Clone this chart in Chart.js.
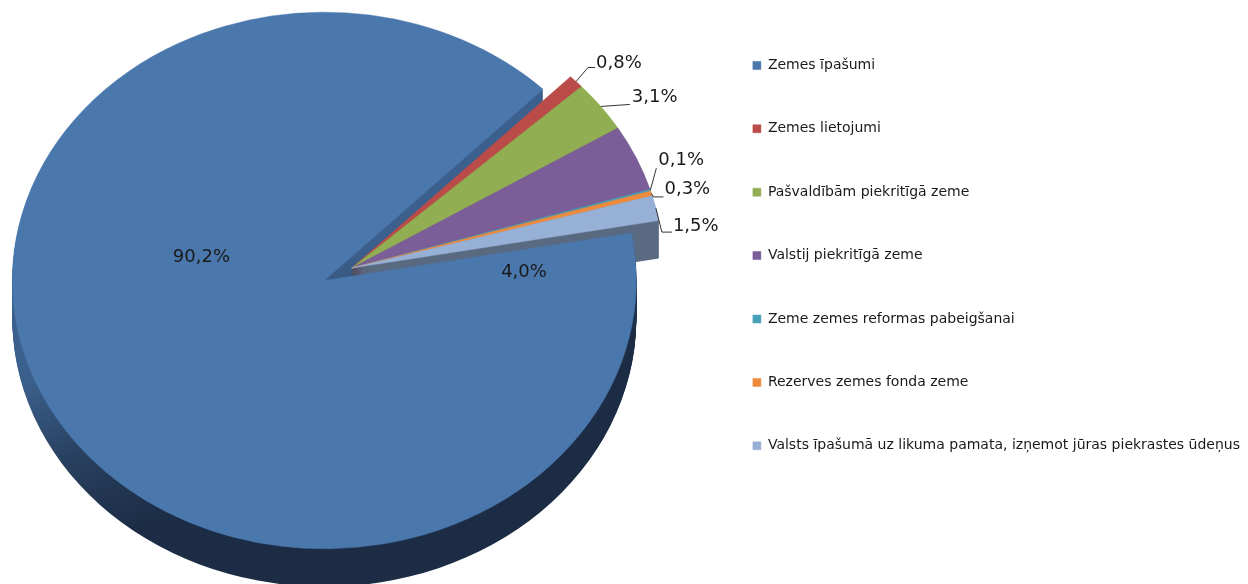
<!DOCTYPE html>
<html lang="lv">
<head>
<meta charset="utf-8">
<title>Zemes sadalījums</title>
<script src="https://cdn.jsdelivr.net/npm/chart.js@4.4.1/dist/chart.umd.min.js"></script>
<style>
  html, body { margin: 0; padding: 0; background: #fff; }
  #wrap { width: 1248px; height: 584px; }
</style>
</head>
<body>
<div id="wrap"><canvas id="pie" width="1248" height="584"></canvas></div>
<script>
// --- Dati ---
const categories = [
    'Zemes īpašumi',
    'Zemes lietojumi',
    'Pašvaldībām piekritīgā zeme',
    'Valstij piekritīgā zeme',
    'Zeme zemes reformas pabeigšanai',
    'Rezerves zemes fonda zeme',
    'Valsts īpašumā uz likuma pamata, izņemot jūras piekrastes ūdeņus'
];
const shares = [90.2, 0.8, 3.1, 4.0, 0.1, 0.3, 1.5];
const shareLabels = shares.map(v => v.toFixed(1).replace('.', ',') + '%');

const sliceColors = ['#4a77ac', '#bb4b48', '#92ae53', '#7b5e98', '#45a0b8', '#ee8a3c', '#97b0d6'];
const sideColors  = ['#2a4469', '#7a2f2d', '#5f7536', '#4e3c66', '#2e6c7d', '#a8632a', '#5a6a81'];


/**
 * Pie "3D" : le camembert est aplati verticalement, avec une tranche éclatée
 * et une épaisseur dessinée en couches sombres sous les faces.
 */
class Pie3DController extends Chart.PieController {
    draw() {
        const ctx = this.chart.ctx;
        const arcs = this._cachedMeta.data;
        if (!arcs.length) return;
        const ds = this.getDataset();
        const depth = ds.depth || 0;
        const squish = ds.squish || 1;
        const explode = ds.explode || [];
        const cx = arcs[0].x, cy = arcs[0].y;

        const layer = (dy, paint) => {
            ctx.save();
            ctx.translate(cx, cy + dy);
            ctx.scale(1, squish);
            ctx.translate(-cx, -cy);
            arcs.forEach((arc, i) => {
                const mid = (arc.startAngle + arc.endAngle) / 2;
                const e = explode[i] || 0;
                ctx.save();
                ctx.translate(Math.cos(mid) * e, Math.sin(mid) * e);
                paint(arc, i);
                ctx.restore();
            });
            ctx.restore();
        };

        // dégradé du flanc de la grande tranche, défini en coordonnées écran
        const flankShade = () => {
            const inv = ctx.getTransform().invertSelf();
            const p0 = inv.transformPoint(new DOMPoint(cx - 180, cy + 55));
            const p1 = inv.transformPoint(new DOMPoint(cx - 95, cy + 215));
            const g = ctx.createLinearGradient(p0.x, p0.y, p1.x, p1.y);
            g.addColorStop(0, '#3c608d');
            g.addColorStop(0.5, '#28405f');
            g.addColorStop(1, '#1c2c45');
            return g;
        };

        for (let d = depth; d > 0; d--) {
            layer(d, (arc, i) => {
                ctx.beginPath();
                ctx.moveTo(arc.x, arc.y);
                ctx.arc(arc.x, arc.y, arc.outerRadius, arc.startAngle, arc.endAngle);
                ctx.closePath();
                ctx.fillStyle = i === 0 ? flankShade() : ds.sideColor[i];
                ctx.fill();
            });
        }
        layer(0, arc => arc.draw(ctx));
    }
}
Pie3DController.id = 'pie3d';
Pie3DController.defaults = Chart.PieController.defaults;
Pie3DController.overrides = Chart.PieController.overrides;
Chart.register(Pie3DController);


// Étiquettes de pourcentage avec lignes de rappel
const sliceLabelPlugin = {
    id: 'sliceLabels',
    afterDatasetsDraw(chart, args, opts) {
        const meta = chart.getDatasetMeta(0);
        const ds = chart.data.datasets[0];
        const ctx = chart.ctx;
        ctx.save();
        ctx.font = opts.font;
        ctx.fillStyle = opts.color;
        ctx.strokeStyle = opts.lineColor;
        ctx.lineWidth = 1;
        ctx.textBaseline = 'middle';
        meta.data.forEach((arc, i) => {
            const p = opts.place[i];
            const mid = (arc.startAngle + arc.endAngle) / 2;
            const r = arc.outerRadius * p.r + (ds.explode[i] || 0);
            const ax = arc.x + Math.cos(mid) * r;
            const ay = arc.y + Math.sin(mid) * r * ds.squish;
            if (p.leader) {
                ctx.beginPath();
                ctx.moveTo(ax, ay);
                p.leader.forEach(([lx, ly]) => ctx.lineTo(ax + lx, ay + ly));
                ctx.stroke();
            }
            ctx.textAlign = p.align || 'left';
            ctx.fillText(shareLabels[i], ax + p.dx, ay + p.dy);
        });
        ctx.restore();
    }
};

// Largeur fixe pour la légende (position des pastilles)
const legendWidthPlugin = {
    id: 'legendWidth',
    beforeLayout(chart, args, opts) {
        const legend = chart.legend;
        if (!legend || legend._fixedFit) return;
        const fit = legend.fit;
        legend.fit = function () {
            fit.call(this);
            this.width = opts.width;
        };
        legend._fixedFit = true;
    }
};


new Chart(document.getElementById('pie'), {
    type: 'pie3d',
    data: {
        labels: categories,
        datasets: [{
            data: shares,
            backgroundColor: sliceColors,
            borderColor: sliceColors,
            borderWidth: 0.5,
            sideColor: sideColors,
            explode: [31, 0, 0, 0, 0, 0, 0],
            squish: 0.86,
            depth: 38,
            rotation: 79.8,
            radius: 312,
            clip: false
        }]
    },
    options: {
        responsive: false,
        maintainAspectRatio: false,
        animation: false,
        events: [],
        layout: { padding: { left: 0, right: 0, top: 9, bottom: 57 } },
        plugins: {
            tooltip: { enabled: false },
            legend: {
                position: 'right',
                align: 'start',
                labels: {
                    boxWidth: 8,
                    boxHeight: 8,
                    padding: 49.4,
                    color: '#1a1a1a',
                    font: { family: 'DejaVu Sans', size: 14 }
                }
            },
            legendWidth: { width: 544.5 },
            sliceLabels: {
                font: '18px "DejaVu Sans"',
                color: '#1a1a1a',
                lineColor: '#333',
                place: [
                    { r: 0.5, dx: 15, dy: -86, align: 'center' },
                    { r: 1, dx: 20, dy: -18, leader: [[12, -14], [19, -14]] },
                    { r: 1, dx: 31, dy: -9.5, leader: [[29, -2]] },
                    { r: 0.5, dx: 30, dy: 59, align: 'center' },
                    { r: 1, dx: 8, dy: -30, leader: [[6, -22]] },
                    { r: 1, dx: 13, dy: -4.5, leader: [[2, 3.5], [12, 3.5]] },
                    { r: 1, dx: 17, dy: 18, leader: [[6, 24], [16, 24]] }
                ]
            }
        }
    },
    plugins: [sliceLabelPlugin, legendWidthPlugin]
});
</script>
</body>
</html>
